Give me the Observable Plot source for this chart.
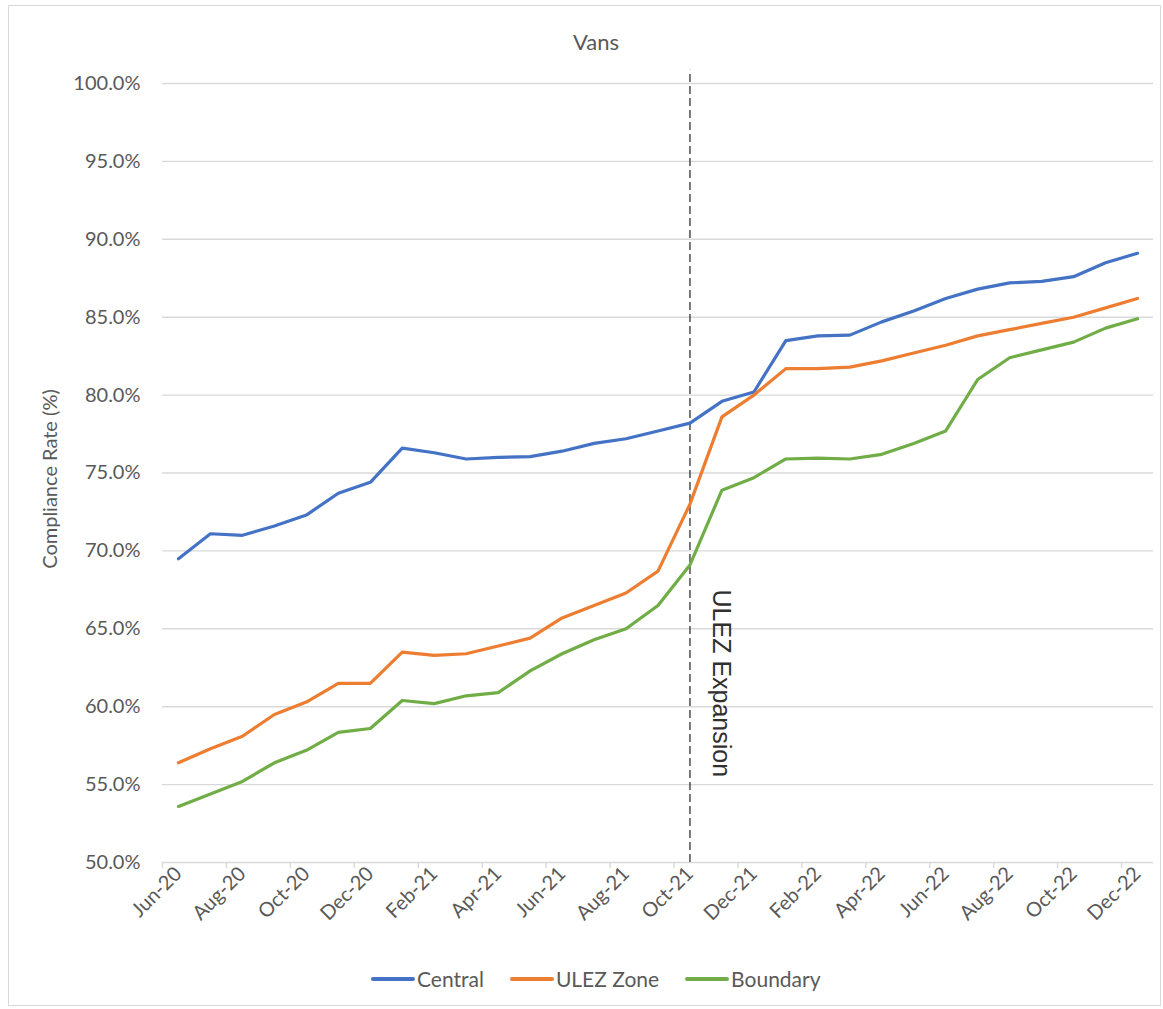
<!DOCTYPE html>
<html>
<head>
<meta charset="utf-8">
<script src="https://cdn.jsdelivr.net/npm/d3@7"></script>
<script src="https://cdn.jsdelivr.net/npm/@observablehq/plot@0.6"></script>
<style>
  body { margin: 0; background: #fff; font-family: Lato, "Open Sans", sans-serif; }
  #wrap { position: relative; width: 1163px; height: 1009px; overflow: hidden; background: #fff; }
  #frame { position: absolute; left: 8px; top: 5px; width: 1153px; height: 1001px; border: 1.5px solid #d9d9d9; box-sizing: border-box; }
  #title { position: absolute; left: 496px; width: 200px; top: 29px; text-align: center; font-size: 22px; line-height: 26px; color: #595959; }
  #chart { position: absolute; left: 0; top: 0; }
  #legend { position: absolute; left: 371px; top: 966px; display: flex; align-items: center; font-size: 21px; line-height: 26px; color: #595959; }
  .item { display: flex; align-items: center; margin-right: 26px; }
  .sw { width: 44px; height: 3.5px; border-radius: 2px; }
</style>
</head>
<body>
<div id="wrap">
  <div id="frame"></div>
  <div id="chart"></div>
  <div id="title">Vans</div>
  <div id="legend"></div>
</div>
<script>
// ---- data ----
const months = ["Jun-20","Jul-20","Aug-20","Sep-20","Oct-20","Nov-20","Dec-20","Jan-21","Feb-21","Mar-21","Apr-21","May-21","Jun-21","Jul-21","Aug-21","Sep-21","Oct-21","Nov-21","Dec-21","Jan-22","Feb-22","Mar-22","Apr-22","May-22","Jun-22","Jul-22","Aug-22","Sep-22","Oct-22","Nov-22","Dec-22"];
const central  = [69.5,71.1,71.0,71.6,72.3,73.7,74.4,76.6,76.3,75.9,76.0,76.05,76.4,76.9,77.2,77.7,78.2,79.6,80.2,83.5,83.8,83.85,84.7,85.4,86.2,86.8,87.2,87.3,87.6,88.5,89.1];
const ulezZone = [56.4,57.3,58.1,59.5,60.3,61.5,61.5,63.5,63.3,63.4,63.9,64.4,65.7,66.5,67.3,68.7,73.0,78.6,80.0,81.7,81.7,81.8,82.2,82.7,83.2,83.8,84.2,84.6,85.0,85.6,86.2];
const boundary = [53.6,54.4,55.2,56.4,57.2,58.35,58.6,60.4,60.2,60.7,60.9,62.3,63.4,64.3,65.0,66.5,69.1,73.9,74.7,75.9,75.95,75.9,76.2,76.9,77.7,81.0,82.4,82.9,83.4,84.3,84.9];
const seriesNames = ["Central", "ULEZ Zone", "Boundary"];
const seriesColors = ["#4472C4", "#ED7D31", "#70AD47"];
const yTicks = [50, 55, 60, 65, 70, 75, 80, 85, 90, 95, 100];
const expansionMonth = "Oct-21";
const expansionLabel = "ULEZ Expansion";
const chartTitle = "Vans";
const yTitle = "Compliance Rate (%)";

// ---- build table ----
const seriesValues = [central, ulezZone, boundary];
const rows = [];
seriesNames.forEach((name, s) => {
  seriesValues[s].forEach((v, i) => rows.push({series: name, i, value: v}));
});
const labelIdx = months.map((m, i) => i).filter(i => i % 2 === 0);
const boundaryIdx = d3.range(-0.5, months.length, 2);
const expIdx = months.indexOf(expansionMonth);

const plot = Plot.plot({
  width: 1163,
  height: 960,
  marginTop: 83,
  marginBottom: 98,
  marginLeft: 162,
  marginRight: 10,
  style: { fontFamily: "Lato, 'Open Sans', sans-serif", fontSize: "20px", color: "#595959", background: "transparent", overflow: "visible" },
  x: { type: "linear", domain: [-0.5, months.length - 0.5] },
  y: { domain: [50, 100] },
  color: { domain: seriesNames, range: seriesColors },
  marks: [
    Plot.ruleY(yTicks, { stroke: "#d9d9d9", strokeWidth: 1.4 }),
    Plot.axisY({ ticks: yTicks, tickSize: 0, tickPadding: 22, tickFormat: d => d.toFixed(1) + "%", label: null }),
    Plot.axisX({ ticks: boundaryIdx, tickSize: 6, tickFormat: () => "", stroke: "#d9d9d9", strokeWidth: 1.4, label: null }),
    Plot.axisX({ ticks: labelIdx, tickSize: 0, tickPadding: 8, tickRotate: -45, tickFormat: i => months[i], label: null }),
    Plot.text([yTitle], { frameAnchor: "left", textAnchor: "middle", rotate: -90, dx: -112, dy: 6, fontSize: 20, fill: "#595959" }),
    Plot.ruleX([expIdx], { y1: 50, y2: 100.85, stroke: "#404040", strokeWidth: 1.4, strokeDasharray: "8,4" }),
    Plot.line(rows, { x: "i", y: "value", z: "series", stroke: "series", strokeWidth: 3.2, strokeLinejoin: "round", strokeLinecap: "round" }),
    Plot.text([expansionLabel], { x: () => expIdx, y: () => 61.5, rotate: 90, dx: 31, fontSize: 25, fontFamily: "'Liberation Sans', Arial, sans-serif", fill: "#303030" })
  ]
});
document.getElementById("chart").appendChild(plot);
document.getElementById("title").textContent = chartTitle;

const legend = document.getElementById("legend");
seriesNames.forEach((name, k) => {
  const item = document.createElement("div");
  item.className = "item";
  const sw = document.createElement("div");
  sw.className = "sw";
  sw.style.background = seriesColors[k];
  const t = document.createElement("span");
  t.textContent = name;
  t.style.marginLeft = "2px";
  item.appendChild(sw);
  item.appendChild(t);
  legend.appendChild(item);
});
</script>
</body>
</html>
